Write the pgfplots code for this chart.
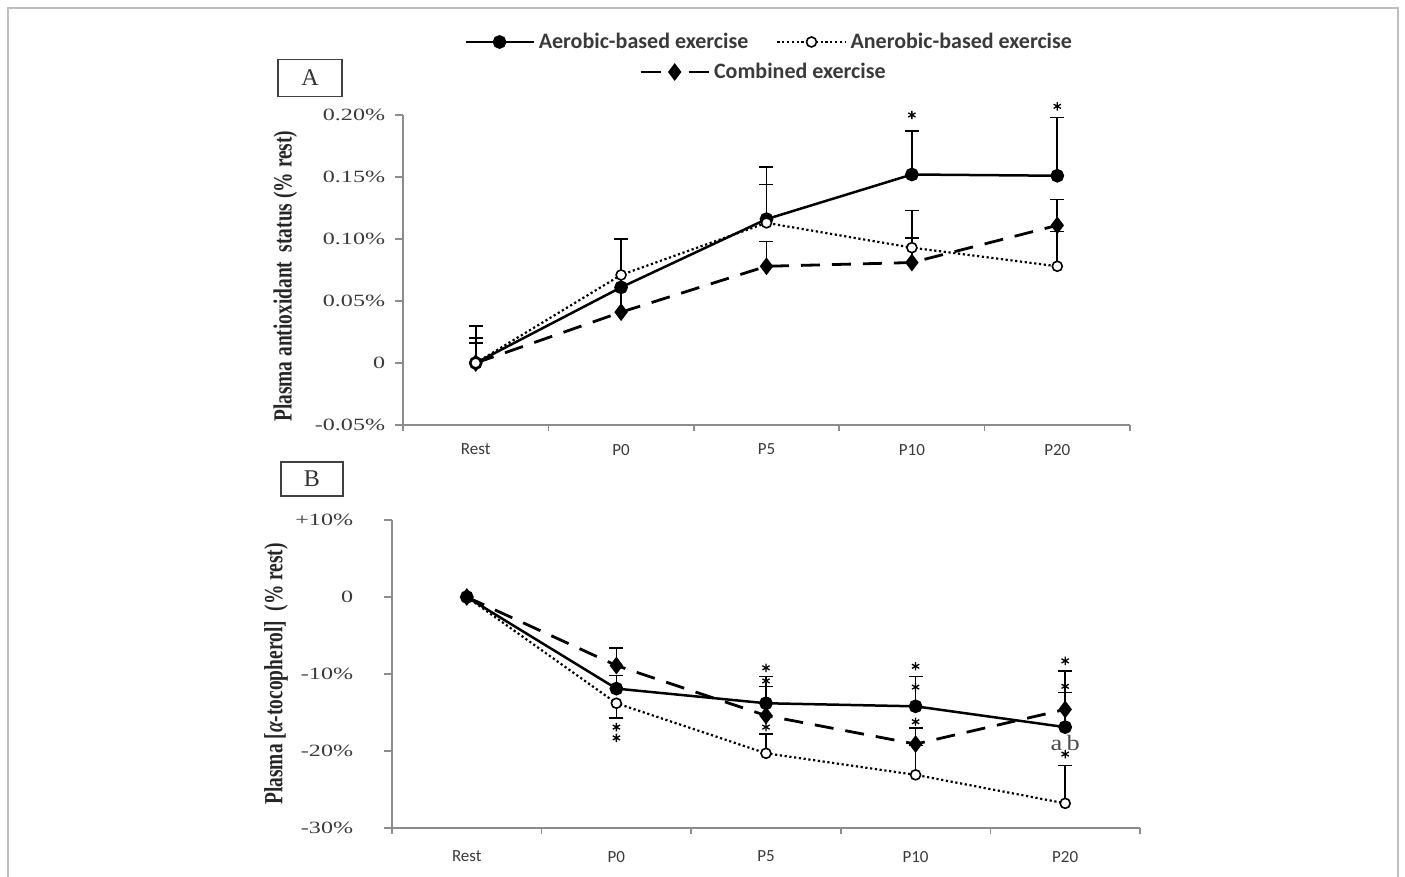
\documentclass[border=0pt]{standalone}
\usepackage{fontspec}
\setmainfont{Liberation Serif}
\newfontfamily\calibri{Carlito}
\usepackage{pgfplots}
\pgfplotsset{compat=1.18}
\usepackage{pgfplotstable}

\definecolor{axgray}{HTML}{8C8C8C}
\definecolor{txt}{HTML}{3A3A3A}

% Panel A: plasma antioxidant status (% rest)
\pgfplotstableread{
x aer ana com
0 0     0     0
1 0.061 0.071 0.041
2 0.116 0.113 0.078
3 0.152 0.093 0.081
4 0.151 0.078 0.111
}\dataA
\pgfplotstableread{
x y e
0 0     0.030
1 0.061 0.039
2 0.116 0.042
3 0.152 0.035
4 0.151 0.047
}\errAaer
\pgfplotstableread{
x y e
0 0     0.020
1 0.071 0.029
2 0.113 0.031
3 0.093 0.030
4 0.078 0.028
}\errAana
\pgfplotstableread{
x y e
0 0     0.016
1 0.041 0.059
2 0.078 0.020
3 0.081 0.020
4 0.111 0.021
}\errAcom
\pgfplotstableread{
x y
3 0.200
4 0.207
}\starA

% Panel B: plasma alpha-tocopherol (% rest)
\pgfplotstableread{
x aer ana com
0 0     0     0
1 -11.9 -13.8 -8.9
2 -13.8 -20.3 -15.4
3 -14.2 -23.1 -19.1
4 -16.9 -26.8 -14.6
}\dataB
\pgfplotstableread{
x y e
1 -11.9 1.7
2 -13.8 3.5
3 -14.2 3.9
4 -16.9 7.3
}\errBaer
\pgfplotstableread{
x y e
1 -8.9  2.3
2 -15.4 3.8
3 -19.1 2.1
4 -14.6 2.2
}\errBcom
\pgfplotstableread{
x y e
2 -20.3 2.5
3 -23.1 3.8
4 -26.8 4.9
}\errBana
\pgfplotstableread{
x y e
1 -13.8 1.9
}\errBanaDown
\pgfplotstableread{
x y
1 -16.9
1 -18.3
2 -9.2
2 -10.9
2 -16.9
3 -9.0
3 -11.7
3 -16.2
4 -8.3
4 -11.6
4 -20.4
}\starB

\pgfplotsset{
  legend image code/.code={\draw[mark repeat=2,mark phase=2,#1] plot coordinates {(0pt,0pt) (17pt,0pt) (34pt,0pt)};},
  common/.style={
    scale only axis, clip=false,
    xmin=-0.5, xmax=4.5,
    axis x line*=bottom, axis y line*=left,
    axis line style={axgray, line width=0.75pt},
    xtick={0,...,4}, xticklabels={Rest,P0,P5,P10,P20},
    minor xtick={-0.5,0.5,1.5,2.5,3.5,4.5},
    major x tick style={draw=none},
    minor x tick style={axgray, line width=0.75pt},
    ytick style={axgray, line width=0.75pt},
    tick align=outside, major tick length=4pt, minor tick length=3pt,
    xticklabel style={font=\calibri\fontsize{8.5}{10}\selectfont, text=txt},
    yticklabel style={font=\fontsize{8.6}{10}\selectfont, text=txt, xscale=1.4},
    ylabel style={font=\bfseries\fontsize{9.7}{11}\selectfont, text=black!85, yscale=1.35, anchor=center},
    legend style={draw=none, fill=none, anchor=center,
      font=\calibri\bfseries\fontsize{11}{13}\selectfont, text=txt,
      /tikz/every even column/.append style={column sep=12pt}},
    legend cell align=left,
  },
  aer/.style={black, solid, line width=1.25pt, mark=*, mark size=2.8pt, mark options={solid, fill=black}},
  ana/.style={black, line width=1.1pt, dash pattern=on 1.1pt off 1.3pt, mark=*, mark size=2.5pt, mark options={solid, fill=white, draw=black, line width=0.8pt}},
  com/.style={black, dash pattern=on 9.5pt off 6pt, line width=1.4pt, mark=diamond*, mark size=3.3pt, mark options={solid, fill=black}},
  eb/.style={draw=none, no markers, forget plot,
    error bars/.cd, y dir=plus, y explicit, error mark=|,
    error bar style={draw=black, solid, line width=0.8pt},
    error mark options={draw=black, solid, line width=0.8pt, mark size=3.5pt}},
  ebdown/.style={draw=none, no markers, forget plot,
    error bars/.cd, y dir=minus, y explicit, error mark=|,
    error bar style={draw=black, solid, line width=0.8pt},
    error mark options={draw=black, solid, line width=0.8pt, mark size=3.5pt}},
  st/.style={only marks, mark=asterisk, mark size=2.1pt, black, mark options={line width=0.65pt}, forget plot},
}

\begin{document}
\begin{tikzpicture}
\useasboundingbox (0,0) rectangle (702.5pt,438.5pt);
\draw[black!25, line width=0.8pt] (4pt,0pt) -- (4pt,434.5pt) -- (699pt,434.5pt) -- (699pt,0pt);

\node[draw=black!75, line width=0.75pt, minimum width=32pt, minimum height=18.5pt, inner sep=0pt,
      font=\fontsize{12}{12}\selectfont, text=black!80] at (155pt,399.5pt) {A};
\node[draw=black!75, line width=0.75pt, minimum width=31pt, minimum height=17pt, inner sep=0pt,
      font=\fontsize{12}{12}\selectfont, text=black!80] at (156pt,199pt) {B};

% ---------- Panel A ----------
\begin{axis}[common,
  at={(201.5pt,226pt)}, anchor=south west,
  width=363.5pt, height=155pt,
  ymin=-0.05, ymax=0.2,
  ytick={-0.05,0,0.05,0.1,0.15,0.2},
  yticklabels={-0.05\%,0\hspace{3.5pt},0.05\%,0.10\%,0.15\%,0.20\%},
  xticklabel style={yshift=-2pt},
  ylabel={Plasma antioxidant\ \ status (\% rest)},
  ylabel style={at={(axis description cs:-0.162,0.48)}},
  legend columns=2,
  legend style={at={(axis description cs:0.505,1.2355)}},
]
\addplot[eb] table[x=x, y=y, y error plus=e] {\errAaer};
\addplot[eb] table[x=x, y=y, y error plus=e] {\errAana};
\addplot[eb] table[x=x, y=y, y error plus=e] {\errAcom};
\addplot[com, forget plot] table[x=x, y=com] {\dataA};
\addplot[aer] table[x=x, y=aer] {\dataA};
\addlegendentry{Aerobic-based exercise}
\addplot[ana] table[x=x, y=ana] {\dataA};
\addlegendentry{Anerobic-based exercise}
\addplot[st] table[x=x, y=y] {\starA};
\end{axis}

% ---------- Panel B ----------
\begin{axis}[common,
  at={(196pt,24.5pt)}, anchor=south west,
  width=374pt, height=154pt,
  ymin=-30, ymax=10,
  ytick={-30,-20,-10,0,10},
  yticklabels={-30\%,-20\%,-10\%,0\hspace{3.5pt},+10\%},
  yticklabel style={xshift=-7.5pt},
  xticklabel style={yshift=-4pt},
  ylabel={Plasma [\textit{α}-tocopherol]\ \ (\% rest)},
  ylabel style={at={(axis description cs:-0.155,0.5)}},
  legend style={at={(axis description cs:0.498,2.4545)}},
  legend image code/.code={\draw[mark repeat=2,mark phase=2,#1, dash pattern=on 10pt off 14pt] plot coordinates {(0pt,0pt) (17pt,0pt) (34pt,0pt)};},
]
\addplot[eb] table[x=x, y=y, y error plus=e] {\errBaer};
\addplot[eb] table[x=x, y=y, y error plus=e] {\errBcom};
\addplot[eb] table[x=x, y=y, y error plus=e] {\errBana};
\addplot[ebdown] table[x=x, y=y, y error minus=e] {\errBanaDown};
\addplot[ana, forget plot] table[x=x, y=ana] {\dataB};
\addplot[aer, forget plot] table[x=x, y=aer] {\dataB};
\addplot[com] table[x=x, y=com] {\dataB};
\addlegendentry{Combined exercise}
\addplot[st] table[x=x, y=y] {\starB};
\node[font=\fontsize{11}{12}\selectfont, text=black!70, xscale=1.2] at (axis cs:4,-19.0) {a\,b};
\end{axis}
\end{tikzpicture}
\end{document}
